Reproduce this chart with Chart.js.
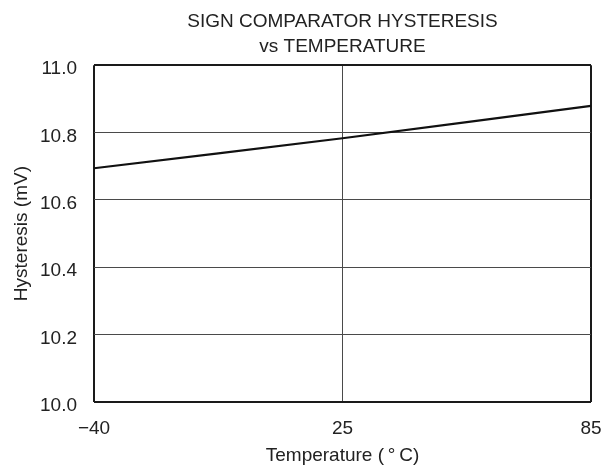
<!DOCTYPE html>
<html>
<head>
<meta charset="utf-8">
<script src="https://cdn.jsdelivr.net/npm/chart.js"></script>
<style>
  html, body { margin: 0; padding: 0; background: #fff; }
  #wrap { width: 602px; height: 468px; }
</style>
</head>
<body>
<div id="wrap"><canvas id="hystChart" width="602" height="468"></canvas></div>
<script>
// data
var temperatures = ['\u221240', '25', '85'];
var hysteresis = [10.694, 10.783, 10.879];
var yTicks = [10.0, 10.2, 10.4, 10.6, 10.8, 11.0];

document.addEventListener('DOMContentLoaded', function () {
  var font = 'Liberation Sans, Arial, Helvetica, sans-serif';
  var ctx = document.getElementById('hystChart').getContext('2d');

  // outer frame lines are heavier than the inner grid
  function edgeWidth(c) {
    var n = c.scale.ticks.length;
    return (c.index === 0 || c.index === n - 1) ? 2 : 1;
  }
  function edgeColor(c) {
    var n = c.scale.ticks.length;
    return (c.index === 0 || c.index === n - 1) ? '#1a1a1a' : '#4a4a4a';
  }

  new Chart(ctx, {
    type: 'line',
    data: {
      labels: temperatures,
      datasets: [{
        data: hysteresis,
        borderColor: '#111',
        borderWidth: 2.2,
        pointRadius: 0,
        tension: 0.2,
        fill: false
      }]
    },
    options: {
      responsive: false,
      animation: false,
      layout: { padding: { left: 0, right: 0, top: 0, bottom: 0 } },
      plugins: {
        legend: { display: false },
        tooltip: { enabled: false },
        title: {
          display: true,
          fullSize: false,
          text: ['SIGN COMPARATOR HYSTERESIS', 'vs TEMPERATURE'],
          color: '#222',
          font: { family: font, size: 19, weight: 'normal', lineHeight: 1.32 },
          padding: { top: 9, bottom: 6 }
        }
      },
      scales: {
        x: {
          type: 'category',
          offset: false,
          grid: { drawTicks: false, color: edgeColor, lineWidth: edgeWidth },
          border: { display: false },
          ticks: { color: '#222', padding: 15, maxRotation: 0, font: { family: font, size: 19 } },
          title: {
            display: true,
            text: 'Temperature (\u2009\u00b0\u2009C)',
            color: '#222',
            font: { family: font, size: 19 },
            padding: { top: 0, bottom: 1 }
          },
          afterFit: function (scale) {
            scale.height = 66;
            scale.paddingLeft = 0;
            scale.paddingRight = 11;
          }
        },
        y: {
          min: 10.0,
          max: 11.0,
          grid: { drawTicks: false, color: edgeColor, lineWidth: edgeWidth },
          border: { display: false },
          afterBuildTicks: function (scale) {
            scale.ticks = yTicks.map(function (v) { return { value: v }; });
          },
          ticks: {
            color: '#222',
            padding: 17,
            labelOffset: 4,
            font: { family: font, size: 19 },
            callback: function (v) { return Number(v).toFixed(1); }
          },
          title: {
            display: true,
            text: 'Hysteresis (mV)',
            color: '#222',
            font: { family: font, size: 19 },
            padding: { top: 10, bottom: 0 }
          },
          afterFit: function (scale) { scale.width = 94; }
        }
      }
    }
  });
});
</script>
</body>
</html>
